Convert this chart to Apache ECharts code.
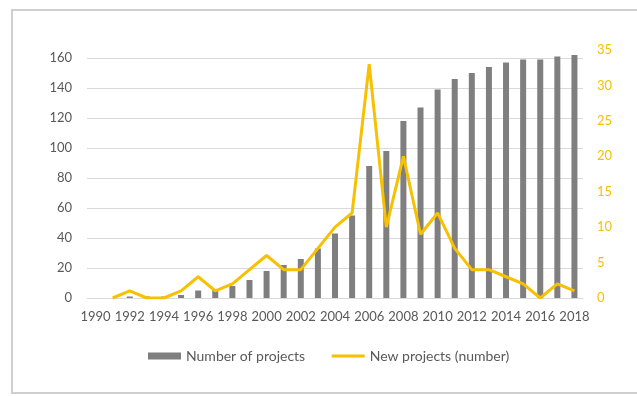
<!DOCTYPE html>
<html>
<head>
<meta charset="utf-8">
<script src="https://cdn.jsdelivr.net/npm/echarts@6/dist/echarts.min.js"></script>
<style>
  html, body { margin: 0; padding: 0; background: #fff; }
  #chart { width: 637px; height: 396px; }
</style>
</head>
<body>
<div id="chart"></div>
<script>
// years on the category axis
var years = [];
for (var y = 1990; y <= 2018; y++) years.push(String(y));

// cumulative number of projects (left axis)
var totalProjects = [0, 0, 1, 1, 1, 2, 5, 6, 8, 12, 18, 22, 26, 33, 43, 55,
  88, 98, 118, 127, 139, 146, 150, 154, 157, 159, 159, 161, 162];

// new projects per year (right axis); no point for 1990
var newProjects = ['-', 0, 1, 0, 0, 1, 3, 1, 2, 4, 6, 4, 4, 7, 10, 12,
  33, 10, 20, 9, 12, 7, 4, 4, 3, 2, 0, 2, 1];

var leftTicks = { min: 0, max: 160, interval: 20 };
var rightTicks = { min: 0, max: 35, interval: 5 };

var GOLD = '#f7c000';
var BAR = '#7f7f7f';
var INK = '#595959';
var FONT = 'Lato, "Open Sans", sans-serif';

var chart = echarts.init(document.getElementById('chart'), null, { renderer: 'canvas' });

chart.setOption({
  animation: false,
  textStyle: { fontFamily: FONT },
  graphic: [{
    type: 'rect',
    shape: { x: 12, y: 10, width: 640, height: 383 },
    style: { fill: 'none', stroke: '#cfcfcf', lineWidth: 2 },
    z: -1
  }],
  // two grids so the right axis top (35) sits a little above the left top (160), as in the source
  grid: [
    { left: 87, right: 54, top: 58, bottom: 98 },
    { left: 87, right: 54, top: 50, bottom: 98 }
  ],
  legend: {
    bottom: 28,
    left: 143,
    itemGap: 25,
    itemWidth: 33,
    itemHeight: 7,
    textStyle: { color: INK, fontSize: 14, fontFamily: FONT },
    data: [
      { name: 'Number of projects', icon: 'rect' },
      { name: 'New projects (number)', itemStyle: { opacity: 0 }, lineStyle: { width: 3, color: GOLD } }
    ]
  },
  xAxis: [{
    type: 'category',
    gridIndex: 0,
    data: years,
    axisLine: { lineStyle: { color: '#d9d9d9' } },
    axisTick: { show: false },
    axisLabel: { interval: 1, color: INK, fontSize: 13, margin: 12 }
  }, {
    type: 'category',
    gridIndex: 1,
    data: years,
    show: false
  }],
  yAxis: [{
    type: 'value',
    gridIndex: 0,
    position: 'left',
    min: leftTicks.min,
    max: leftTicks.max,
    interval: leftTicks.interval,
    axisLine: { show: false },
    axisTick: { show: false },
    axisLabel: { color: INK, fontSize: 13, margin: 15 },
    splitLine: { lineStyle: { color: '#d9d9d9' } }
  }, {
    type: 'value',
    gridIndex: 1,
    position: 'right',
    min: rightTicks.min,
    max: rightTicks.max,
    interval: rightTicks.interval,
    axisLine: { show: false },
    axisTick: { show: false },
    axisLabel: { color: GOLD, fontSize: 13, margin: 14 },
    splitLine: { show: false }
  }],
  series: [{
    name: 'Number of projects',
    type: 'bar',
    xAxisIndex: 0,
    yAxisIndex: 0,
    data: totalProjects,
    barWidth: 6,
    clip: false,
    itemStyle: { color: BAR },
    z: 2
  }, {
    name: 'New projects (number)',
    type: 'line',
    xAxisIndex: 1,
    yAxisIndex: 1,
    data: newProjects,
    symbol: 'none',
    lineStyle: { color: GOLD, width: 3 },
    itemStyle: { color: GOLD },
    z: 3
  }]
});
</script>
</body>
</html>
